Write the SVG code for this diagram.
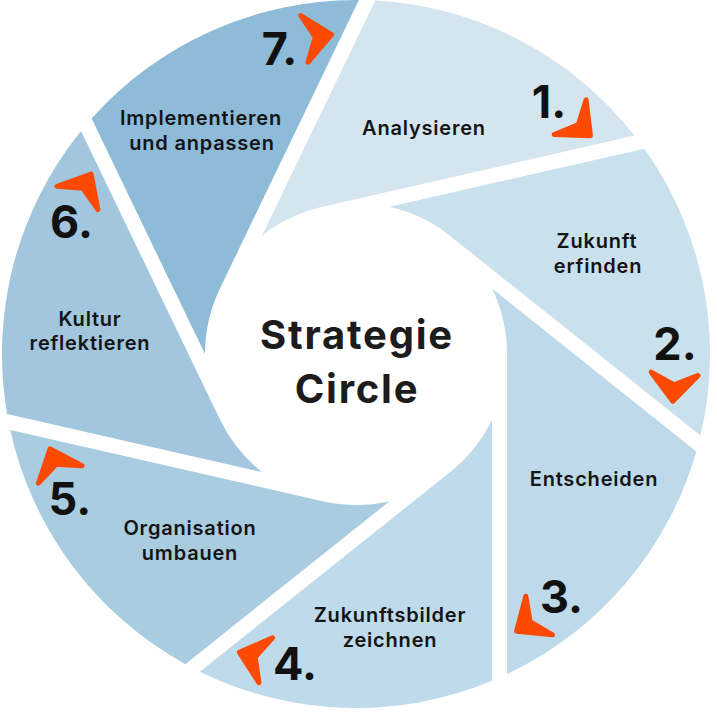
<svg xmlns="http://www.w3.org/2000/svg" width="717" height="720" viewBox="0 0 717 720">
  <style>
    .lbl { font-family: Inter, "Liberation Sans", sans-serif; font-weight: 600; font-size: 20px; fill: #141414; text-anchor: middle; letter-spacing: 0.8px; }
    .num { font-family: Inter, "Liberation Sans", sans-serif; font-weight: 700; font-size: 45px; fill: #111111; text-anchor: middle; }
    .title { font-family: Inter, "Liberation Sans", sans-serif; font-weight: 650; font-size: 40px; fill: #1c1c1c; text-anchor: middle; letter-spacing: 1.8px; }
    .arrow { fill: #fd4a02; stroke: #fd4a02; stroke-width: 5; stroke-linejoin: round; }
  </style>
  <defs>
    <path id="blade" d="M507,354 L620.38,589.43 A354,354 0 0 1 353.13,707.99 L492.05,419.52 A151,151 0 0 0 507,354 Z"/>
    <g id="arrowhead">
      <polygon class="arrow" transform="translate(676.5,354) rotate(85)" points="-2.5,0 -30,-23.5 -19,0 -30,23.5"/>
    </g>
  </defs>
  <rect width="717" height="720" fill="#ffffff"/>

  <g id="step1">
    <use href="#blade" transform="rotate(231.43 356 354)" fill="#d4e5f0"/>
    <use href="#arrowhead" transform="rotate(-42.5 356 354)"/>
    <text class="num" x="549" y="118">1.</text>
    <text class="lbl" x="424" y="135">Analysieren</text>
  </g>
  <g id="step2">
    <use href="#blade" transform="rotate(282.86 356 354)" fill="#c9e0ed"/>
    <use href="#arrowhead" transform="rotate(8.93 356 354)"/>
    <text class="num" x="675" y="360">2.</text>
    <text class="lbl" x="597" y="248">Zukunft</text>
    <text class="lbl" x="598" y="273">erfinden</text>
  </g>
  <g id="step3">
    <use href="#blade" transform="rotate(334.29 356 354)" fill="#bed9ea"/>
    <use href="#arrowhead" transform="rotate(60.36 356 354)"/>
    <text class="num" x="561.5" y="613">3.</text>
    <text class="lbl" x="594" y="486">Entscheiden</text>
  </g>
  <g id="step4">
    <use href="#blade" transform="rotate(25.71 356 354)" fill="#bfdaeb"/>
    <use href="#arrowhead" transform="rotate(111.79 356 354)"/>
    <text class="num" x="295" y="680">4.</text>
    <text class="lbl" x="390" y="622">Zukunftsbilder</text>
    <text class="lbl" x="390" y="647">zeichnen</text>
  </g>
  <g id="step5">
    <use href="#blade" transform="rotate(77.14 356 354)" fill="#a9cce1"/>
    <use href="#arrowhead" transform="rotate(163.21 356 354)"/>
    <text class="num" x="70" y="515">5.</text>
    <text class="lbl" x="190" y="535">Organisation</text>
    <text class="lbl" x="190" y="560">umbauen</text>
  </g>
  <g id="step6">
    <use href="#blade" transform="rotate(128.57 356 354)" fill="#a1c6de"/>
    <use href="#arrowhead" transform="rotate(214.64 356 354)"/>
    <text class="num" x="71.5" y="238">6.</text>
    <text class="lbl" x="90" y="326">Kultur</text>
    <text class="lbl" x="90" y="350">reflektieren</text>
  </g>
  <g id="step7">
    <use href="#blade" transform="rotate(180 356 354)" fill="#8dbbd8"/>
    <use href="#arrowhead" transform="rotate(266.07 356 354)"/>
    <text class="num" x="279.5" y="65">7.</text>
    <text class="lbl" x="201" y="125">Implementieren</text>
    <text class="lbl" x="202" y="150">und anpassen</text>
  </g>

  <g id="center">
    <text class="title" x="357" y="349">Strategie</text>
    <text class="title" x="357" y="403">Circle</text>
  </g>
  <g id="connectors"></g>
</svg>
